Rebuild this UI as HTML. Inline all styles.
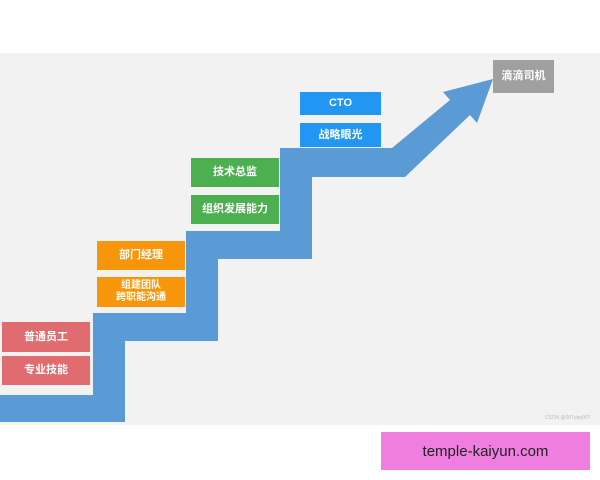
<!DOCTYPE html>
<html><head><meta charset="utf-8"><style>
body{margin:0;width:600px;height:480px;background:#fff;position:relative;overflow:hidden;font-family:"Liberation Sans","Noto Sans CJK SC",sans-serif}
.p{position:absolute;left:0;top:53px;width:600px;height:372px;background:#f2f2f2}
.b{position:absolute;color:#fff;font-weight:bold;font-size:11px;display:flex;align-items:center;justify-content:center;text-align:center;line-height:13px}
.r{background:#e06c6f}.o{background:#f7960b}.g{background:#4caf50}.c{background:#2196f3}
</style></head><body>
<div class="p"></div>
<svg width="600" height="480" style="position:absolute;left:0;top:0">
<polygon fill="#5b9bd5" points="0,395 93,395 93,313 186,313 186,231 280,231 280,148 392,148 450,100 443,92 493,79 477,123 470,115 405,177 312,177 312,259 218,259 218,341 125,341 125,422 0,422"/>
</svg>
<div class="b r" style="left:2px;top:322px;width:88px;height:30px">普通员工</div>
<div class="b r" style="left:2px;top:356px;width:88px;height:29px">专业技能</div>
<div class="b o" style="left:97px;top:241px;width:88px;height:29px">部门经理</div>
<div class="b o" style="left:97px;top:277px;width:88px;height:30px;font-size:10px;line-height:12px">组建团队<br>跨职能沟通</div>
<div class="b g" style="left:191px;top:158px;width:88px;height:29px">技术总监</div>
<div class="b g" style="left:191px;top:195px;width:88px;height:29px">组织发展能力</div>
<div class="b c" style="left:300px;top:92px;width:81px;height:23px">CTO</div>
<div class="b c" style="left:300px;top:123px;width:81px;height:24px">战略眼光</div>
<div class="b" style="left:493px;top:60px;width:61px;height:33px;background:#a0a0a0">滴滴司机</div>
<div style="position:absolute;left:545px;top:415px;font-size:5px;color:#bbb">CSDN @007pkp007</div>
<div style="position:absolute;left:381px;top:432px;width:209px;height:38px;background:#f07ee0;color:#222;font-size:15px;display:flex;align-items:center;justify-content:center">temple-kaiyun.com</div>
</body></html>
